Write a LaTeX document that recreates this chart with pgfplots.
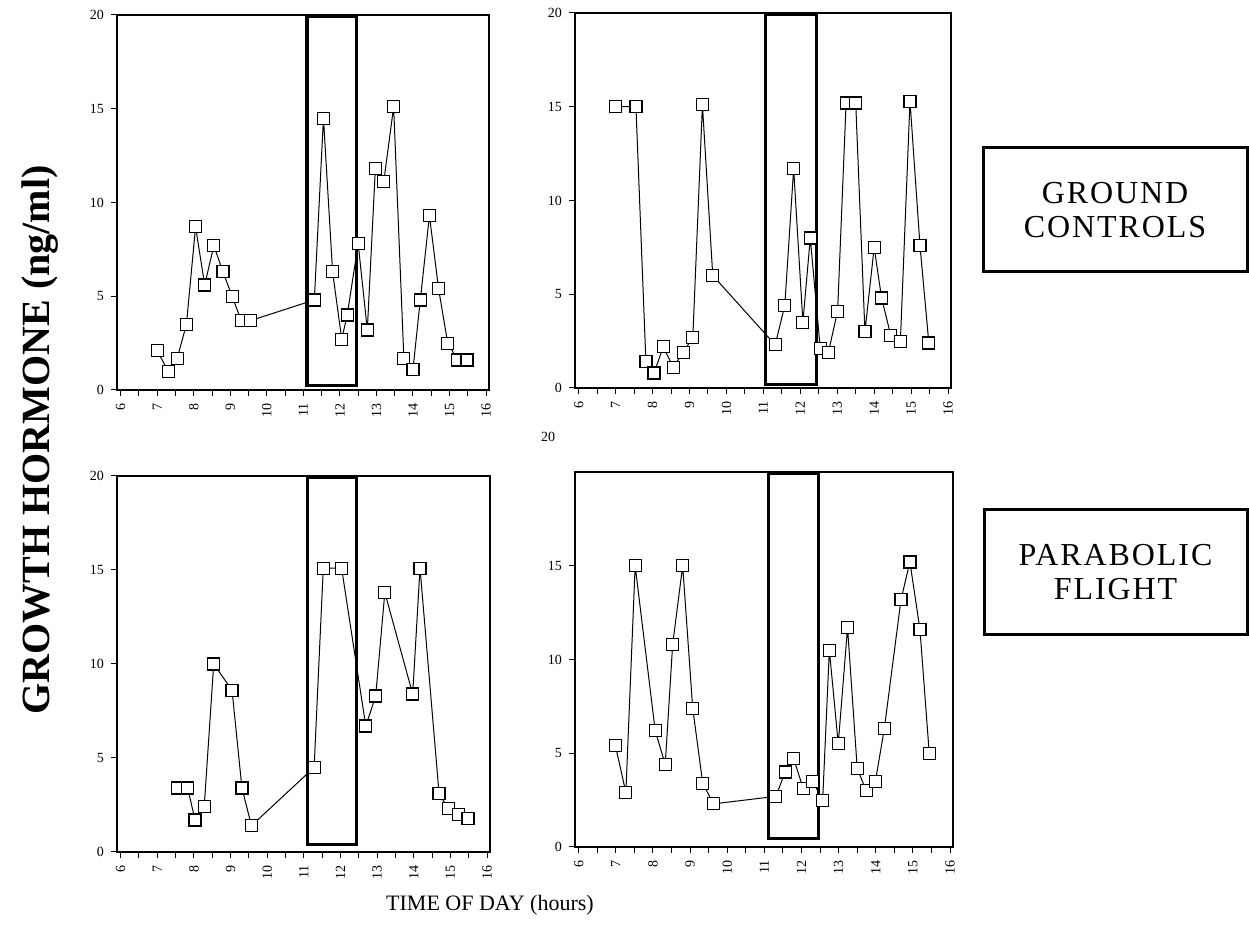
\documentclass[border=0pt]{standalone}
\usepackage{fontspec}
\setmainfont{Liberation Serif}
\usepackage{pgfplots}
\pgfplotsset{compat=1.18}

\pgfplotsset{
 panel/.style={
  scale only axis, anchor=south west,
  xmin=5.9, xmax=16.08, ymin=0, ymax=20,
  xtick={6,...,16}, minor xtick={6.5,7.5,...,15.5},
  ytick={0,5,10,15,20},
  xtick pos=left, ytick pos=left,
  tick align=outside,
  major tick length=3pt, minor tick length=3pt,
  every tick/.style={black, line width=0.5pt},
  axis line style={line width=0.7pt},
  x tick label style={rotate=90, anchor=east, font=\fontsize{7}{8}\selectfont},
  y tick label style={font=\fontsize{7}{8}\selectfont},
  /pgf/number format/assume math mode=true,
 },
 gh/.style={black, line width=0.5pt, mark=square*, mark size=3pt, mark options={fill=white, line width=0.6pt, solid}},
}

\begin{document}
\begin{tikzpicture}
\path[use as bounding box] (0,0) rectangle (624.5pt,473pt);

% Panel 1: ground controls, left
\begin{axis}[panel, at={(58.5pt,278pt)}, width=186pt, height=187.5pt]
\addplot[gh] coordinates {(7.0,2.1) (7.3,1.0) (7.55,1.7) (7.8,3.5) (8.05,8.7) (8.3,5.6) (8.55,7.7) (8.8,6.3) (9.05,5.0) (9.3,3.7) (9.55,3.7) (11.3,4.8) (11.55,14.5) (11.8,6.3) (12.05,2.7) (12.2,4.0) (12.5,7.8) (12.75,3.2) (12.97,11.8) (13.2,11.1) (13.47,15.1) (13.75,1.7) (14.0,1.1) (14.2,4.8) (14.45,9.3) (14.7,5.4) (14.95,2.5) (15.22,1.6) (15.48,1.6)};
\draw[line width=1.6pt] (axis cs:11.1,0.25) rectangle (axis cs:12.45,19.9);
\end{axis}

% Panel 2: ground controls, right
\begin{axis}[panel, at={(287.5pt,279pt)}, width=188pt, height=187.5pt]
\addplot[gh] coordinates {(7.0,15.0) (7.55,15.0) (7.82,1.4) (8.04,0.8) (8.29,2.2) (8.56,1.1) (8.83,1.9) (9.09,2.7) (9.35,15.1) (9.63,6.0) (11.32,2.3) (11.58,4.4) (11.82,11.7) (12.07,3.5) (12.27,8.0) (12.54,2.1) (12.76,1.9) (13.01,4.1) (13.24,15.2) (13.5,15.2) (13.75,3.0) (14.0,7.5) (14.2,4.8) (14.45,2.8) (14.71,2.5) (14.97,15.3) (15.24,7.6) (15.48,2.4)};
\draw[line width=1.6pt] (axis cs:11.05,0.2) rectangle (axis cs:12.43,19.95);
\end{axis}

% Panel 3: parabolic flight, left
\begin{axis}[panel, at={(58.5pt,47pt)}, width=186.5pt, height=188pt]
\addplot[gh] coordinates {(7.55,3.4) (7.83,3.4) (8.03,1.7) (8.28,2.4) (8.54,10.0) (9.04,8.6) (9.31,3.4) (9.57,1.4) (11.28,4.5) (11.53,15.1) (12.03,15.1) (12.69,6.7) (12.96,8.3) (13.21,13.8) (13.97,8.4) (14.17,15.1) (14.69,3.1) (14.95,2.3) (15.22,2.0) (15.48,1.8)};
\draw[line width=1.6pt] (axis cs:11.1,0.4) rectangle (axis cs:12.44,19.9);
\end{axis}

% Panel 4: parabolic flight, right
\begin{axis}[panel, name=p4, at={(287.5pt,49.5pt)}, width=189pt, height=187.5pt, ytick={0,5,10,15}]
\addplot[gh] coordinates {(6.99,5.4) (7.27,2.9) (7.52,15.0) (8.06,6.2) (8.33,4.4) (8.53,10.8) (8.8,15.0) (9.07,7.4) (9.34,3.4) (9.63,2.3) (11.31,2.7) (11.56,4.0) (11.79,4.7) (12.05,3.1) (12.3,3.5) (12.57,2.5) (12.75,10.5) (12.99,5.5) (13.24,11.7) (13.5,4.2) (13.74,3.0) (13.99,3.5) (14.23,6.3) (14.68,13.2) (14.92,15.2) (15.19,11.6) (15.44,5.0)};
\draw[line width=1.6pt] (axis cs:11.11,0.45) rectangle (axis cs:12.46,19.95);
\end{axis}
\node[font=\fontsize{7}{8}\selectfont] at ([xshift=-13.5pt, yshift=17.5pt]p4.north west) {20};

% Labels
\node[rotate=90, font=\fontsize{20}{22}\selectfont\bfseries] at (20pt,253pt) {GROWTH HORMONE (ng/ml)};
\node[font=\fontsize{11}{13}\selectfont] at (245pt,20.5pt) {TIME OF DAY (hours)};

\draw[line width=1.5pt] (491.5pt,337pt) rectangle (623.5pt,399pt);
\node[align=center, font=\fontsize{16}{17}\selectfont\addfontfeature{LetterSpace=6}] at (557.5pt,368pt) {GROUND\\CONTROLS};
\draw[line width=1.5pt] (492pt,155.5pt) rectangle (623.5pt,218pt);
\node[align=center, font=\fontsize{16}{17}\selectfont\addfontfeature{LetterSpace=6}] at (557.75pt,186.75pt) {PARABOLIC\\FLIGHT};
\end{tikzpicture}
\end{document}
